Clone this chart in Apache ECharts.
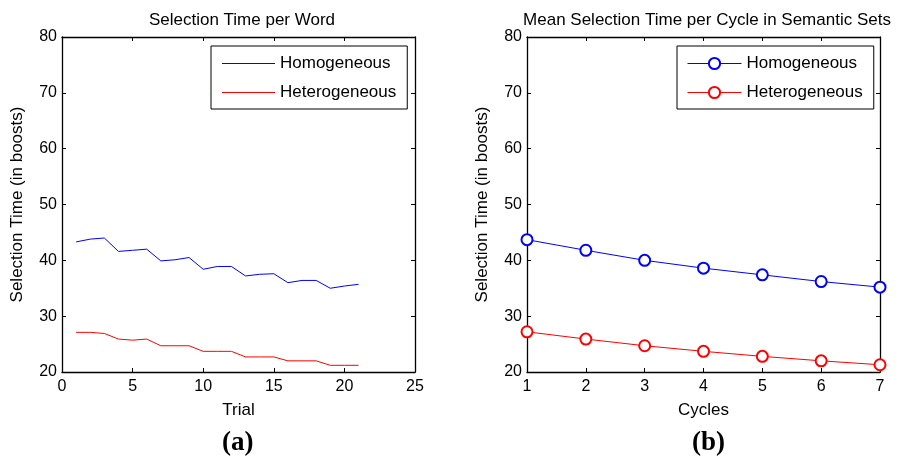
<!DOCTYPE html>
<html>
<head>
<meta charset="utf-8">
<script src="https://cdn.jsdelivr.net/npm/echarts@6/dist/echarts.min.js"></script>
<style>html,body{margin:0;padding:0;background:#fff}#c{width:899px;height:463px}</style>
</head>
<body>
<div id="c"></div>
<script>
// ---- data ----
const trials = [1,2,3,4,5,6,7,8,9,10,11,12,13,14,15,16,17,18,19,20,21];
const trialHomogeneous = [43.3,43.8,44.0,41.6,41.8,42.0,39.9,40.1,40.5,38.4,38.9,38.9,37.2,37.5,37.6,36.0,36.4,36.4,35.0,35.4,35.7];
const trialHeterogeneous = [27.1,27.1,26.9,25.9,25.7,25.9,24.7,24.7,24.7,23.7,23.7,23.7,22.7,22.7,22.7,22.0,22.0,22.0,21.2,21.2,21.2];
const cycles = [1,2,3,4,5,6,7];
const cycleHomogeneous = [43.7,41.8,40.0,38.6,37.4,36.2,35.2];
const cycleHeterogeneous = [27.2,25.9,24.7,23.7,22.8,22.0,21.3];
const seriesNames = ['Homogeneous', 'Heterogeneous'];
const titleA = 'Selection Time per Word';
const titleB = 'Mean Selection Time per Cycle in Semantic Sets';
const yName = 'Selection Time (in boosts)';

const FONT = 'Liberation Sans, Arial, sans-serif';
const BLUE = '#0000ff', RED = '#ff0000';
const pairs = (xs, ys) => xs.map((x, i) => [x, ys[i]]);

function xAx(grid, min, max, interval, pos, name) {
  const main = pos === 'bottom';
  return {
    type: 'value', gridIndex: grid, position: pos, min, max, interval,
    name: main ? name : '', nameLocation: 'middle', nameGap: 30,
    nameTextStyle: { fontFamily: FONT, fontSize: 17, color: '#000' },
    axisLine: { show: true, onZero: false, lineStyle: { color: '#000', width: 1.3 } },
    axisTick: { show: true, inside: true, length: 4, lineStyle: { color: '#000' } },
    axisLabel: { show: main, fontFamily: FONT, fontSize: 16, color: '#000', margin: 7 },
    splitLine: { show: false }
  };
}
function yAx(grid, pos) {
  const main = pos === 'left';
  return {
    type: 'value', gridIndex: grid, position: pos, min: 20, max: 80, interval: 10,
    name: main ? yName : '', nameLocation: 'middle', nameGap: 36,
    nameTextStyle: { fontFamily: FONT, fontSize: 17, color: '#000' },
    axisLine: { show: true, onZero: false, lineStyle: { color: '#000', width: 1.3 } },
    axisTick: { show: true, inside: true, length: 4, lineStyle: { color: '#000' } },
    axisLabel: { show: main, fontFamily: FONT, fontSize: 16, color: '#000', margin: 5 },
    splitLine: { show: false }
  };
}
const legendBase = {
  top: 46, orient: 'vertical', itemGap: 12, itemHeight: 14,
  borderColor: '#000', borderWidth: 1, borderRadius: 0, backgroundColor: '#fff',
  textStyle: { fontFamily: FONT, fontSize: 17, color: '#000' }
};
const LINE_ICON = 'path://M0,0L53,0L53,1L0,1Z';

const chart = echarts.init(document.getElementById('c'));
chart.setOption({
  animation: false,
  backgroundColor: '#fff',
  title: [
    { text: titleA, left: 237, top: 7, textAlign: 'center',
      textStyle: { fontFamily: FONT, fontSize: 17, fontWeight: 'normal', color: '#000' } },
    { text: titleB, left: 702, top: 7, textAlign: 'center',
      textStyle: { fontFamily: FONT, fontSize: 17, fontWeight: 'normal', color: '#000' } }
  ],
  graphic: [
    { type: 'text', left: 222, top: 430, style: { text: '(a)', font: 'bold 27px "Liberation Serif", "Times New Roman", serif', fill: '#000' } },
    { type: 'text', left: 692, top: 430, style: { text: '(b)', font: 'bold 27px "Liberation Serif", "Times New Roman", serif', fill: '#000' } }
  ],
  grid: [
    { left: 62, right: 484, top: 37, bottom: 91 },
    { left: 527, right: 19, top: 37, bottom: 91 }
  ],
  xAxis: [
    xAx(0, 0, 25, 5, 'bottom', 'Trial'),
    xAx(0, 0, 25, 5, 'top', ''),
    xAx(1, 1, 7, 1, 'bottom', 'Cycles'),
    xAx(1, 1, 7, 1, 'top', '')
  ],
  yAxis: [
    yAx(0, 'left'), yAx(0, 'right'), yAx(1, 'left'), yAx(1, 'right')
  ],
  legend: [
    Object.assign({}, legendBase, {
      left: 211, padding: [9, 11, 8, 11], itemWidth: 53,
      data: [
        { name: seriesNames[0], icon: LINE_ICON, itemStyle: { color: BLUE } },
        { name: seriesNames[1], icon: LINE_ICON, itemStyle: { color: RED } }
      ]
    }),
    Object.assign({}, legendBase, {
      left: 677, padding: [9, 11, 8, 10], itemWidth: 54,
      itemStyle: { borderWidth: 1 },
      lineStyle: { width: 1 },
      formatter: n => n.trim(),
      data: [seriesNames[0] + ' ', seriesNames[1] + ' ']
    })
  ],
  series: [
    { name: seriesNames[0], type: 'line', xAxisIndex: 0, yAxisIndex: 0, data: pairs(trials, trialHomogeneous),
      showSymbol: false, symbol: 'none', lineStyle: { color: BLUE, width: 1 }, itemStyle: { color: BLUE } },
    { name: seriesNames[1], type: 'line', xAxisIndex: 0, yAxisIndex: 0, data: pairs(trials, trialHeterogeneous),
      showSymbol: false, symbol: 'none', lineStyle: { color: RED, width: 1 }, itemStyle: { color: RED } },
    { name: seriesNames[0] + ' ', type: 'line', xAxisIndex: 2, yAxisIndex: 2, data: pairs(cycles, cycleHomogeneous),
      symbol: 'emptyCircle', symbolSize: 11, lineStyle: { color: BLUE, width: 1 },
      itemStyle: { color: BLUE, borderColor: BLUE, borderWidth: 1 } },
    { name: seriesNames[1] + ' ', type: 'line', xAxisIndex: 2, yAxisIndex: 2, data: pairs(cycles, cycleHeterogeneous),
      symbol: 'emptyCircle', symbolSize: 11, lineStyle: { color: RED, width: 1 },
      itemStyle: { color: RED, borderColor: RED, borderWidth: 1 } }
  ]
});
</script>
</body>
</html>
